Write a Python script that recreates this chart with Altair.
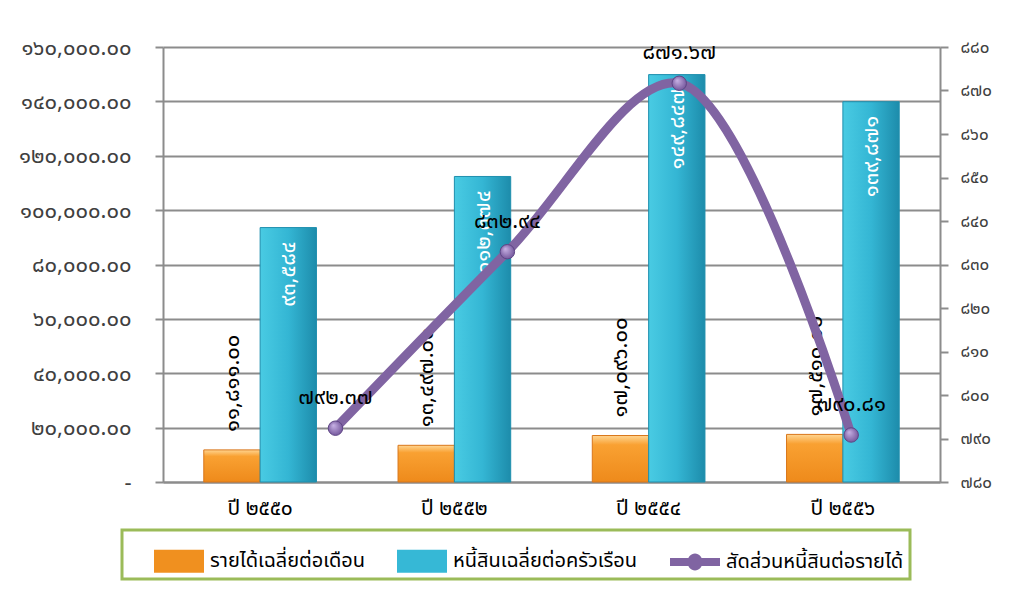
import altair as alt
import pandas as pd

years = ["ปี ๒๕๕๐", "ปี ๒๕๕๒", "ปี ๒๕๕๔", "ปี ๒๕๕๖"]
income = [11811.00, 13497.00, 17096.00, 17510.00]
debt = [93584, 112374, 149847, 139871]
ratio = [792.37, 832.94, 871.67, 790.81]
series_names = ["รายได้เฉลี่ยต่อเดือน", "หนี้สินเฉลี่ยต่อครัวเรือน", "สัดส่วนหนี้สินต่อรายได้"]
left_ticks = [0, 20000, 40000, 60000, 80000, 100000, 120000, 140000, 160000]
right_ticks = [780, 790, 800, 810, 820, 830, 840, 850, 860, 870, 880]

THAI = "๐๑๒๓๔๕๖๗๘๙"


def thai(s):
    return "".join(THAI[int(c)] if c.isdigit() else c for c in s)


def thai_expr(e):
    for d in range(10):
        e = f"replace({e}, regexp('{d}', 'g'), '{THAI[d]}')"
    return e


FONT = "Tahoma, 'Noto Sans Thai', 'Leelawadee UI', 'DejaVu Sans', sans-serif"

inc_df = pd.DataFrame({"year": years, "value": income, "series": "income",
                       "label": [thai(f"{v:,.2f}") for v in income]})
debt_df = pd.DataFrame({"year": years, "value": debt, "series": "debt",
                        "label": [thai(f"{v:,}") for v in debt]})
ratio_df = pd.DataFrame({"year": years, "ratio": ratio,
                         "label": [thai(f"{v:.2f}") for v in ratio]})
legend_df = pd.DataFrame({"name": series_names})

x_band = alt.X("year:N", sort=years, title=None,
               scale=alt.Scale(paddingInner=0.42, paddingOuter=0.21),
               axis=alt.Axis(labelAngle=0, labelFontSize=21, labelColor="#000000",
                             labelPadding=15, ticks=False, domainColor="#8C8C8C",
                             domainWidth=2, labelFont=FONT))
xoff = alt.XOffset("series:N", scale=alt.Scale(domain=["income", "debt"]))
y_left = alt.Y("value:Q", title=None,
               scale=alt.Scale(domain=[0, 160000], nice=False),
               axis=alt.Axis(values=left_ticks, labelFontSize=22, labelColor="#404040",
                             labelFont=FONT, labelPadding=24, tickSize=8,
                             tickColor="#8C8C8C", tickWidth=2, domainColor="#8C8C8C",
                             domainWidth=2, grid=True, gridColor="#8C8C8C", gridWidth=2,
                             labelExpr="datum.value == 0 ? '-\u00a0\u00a0\u00a0\u00a0' : "
                             + thai_expr("format(datum.value, ',.2f')")))

orange_grad = alt.Gradient(gradient="linear", x1=0, y1=0, x2=0, y2=1, stops=[
    alt.GradientStop(offset=0, color="#FFD591"),
    alt.GradientStop(offset=0.2, color="#F9A132"),
    alt.GradientStop(offset=1, color="#EE8A1B")])
teal_grad = alt.Gradient(gradient="linear", x1=0, y1=0, x2=1, y2=0, stops=[
    alt.GradientStop(offset=0, color="#49CBE3"),
    alt.GradientStop(offset=0.5, color="#34B6D4"),
    alt.GradientStop(offset=1, color="#1D8CAB")])

orange_bar = alt.Chart(inc_df).mark_bar(fill=orange_grad, stroke="#D9761A", strokeWidth=1).encode(
    x=x_band, xOffset=xoff, y=y_left)
orange_text = alt.Chart(inc_df).mark_text(angle=270, align="left", baseline="middle", dx=18,
                                          fontSize=22, color="#000000", font=FONT).encode(
    x=x_band, xOffset=xoff, y=y_left, text="label:N")
teal_bar = alt.Chart(debt_df).mark_bar(fill=teal_grad, stroke="#1F8FAE", strokeWidth=1).encode(
    x=x_band, xOffset=xoff, y=y_left)
teal_text = alt.Chart(debt_df).mark_text(angle=270, align="right", baseline="middle", dx=-14,
                                         fontSize=22, color="#FFFFFF", font=FONT).encode(
    x=x_band, xOffset=xoff, y=y_left, text="label:N")

bars = alt.layer(orange_bar, teal_bar, orange_text, teal_text)

x_point = alt.X("year:N", sort=years, title=None,
                scale=alt.Scale(type="point", padding=0.76, align=0.66), axis=None)
y_right = alt.Y("ratio:Q", title=None, scale=alt.Scale(domain=[780, 880], nice=False),
                axis=alt.Axis(orient="right", values=right_ticks, labelFontSize=17,
                              labelColor="#404040", labelFont=FONT, labelPadding=12,
                              tickSize=8, tickColor="#8C8C8C", tickWidth=2,
                              domainColor="#8C8C8C", domainWidth=2, grid=False,
                              labelExpr=thai_expr("format(datum.value, 'd')")))

dot_grad = alt.Gradient(gradient="radial", x1=0.35, y1=0.3, r1=0, x2=0.5, y2=0.5, r2=0.6, stops=[
    alt.GradientStop(offset=0, color="#C9B3E6"),
    alt.GradientStop(offset=1, color="#6A4C93")])

line = alt.Chart(ratio_df).mark_line(color="#8064A2", strokeWidth=9, interpolate="catmull-rom",
                                     strokeCap="round").encode(x=x_point, y=y_right)
dots = alt.Chart(ratio_df).mark_point(filled=True, fill=dot_grad, size=210, opacity=1,
                                      stroke="#5E4585", strokeWidth=1).encode(x=x_point, y=y_right)
line_text = alt.Chart(ratio_df).mark_text(dy=-31, fontSize=22, color="#000000", font=FONT).encode(
    x=x_point, y=y_right, text="label:N")

rect_path = "M-1,-0.46L1,-0.46L1,0.46L-1,0.46Z"
line_path = ("M-1,-0.16L1,-0.16L1,0.16L-1,0.16Z "
             "M0.3,0A0.3,0.34,0,1,1,-0.3,0A0.3,0.34,0,1,1,0.3,0Z")
leg = alt.Legend(title=None, orient="none", legendX=-41, legendY=483, direction="horizontal",
                 columns=3, labelFontSize=20, labelFont=FONT, labelColor="#000000",
                 symbolSize=2500, symbolOpacity=1, symbolStrokeWidth=0, labelOffset=6,
                 symbolOffset=26, columnPadding=6, padding=6, strokeColor="#9BBB59",
                 labelLimit=400)
legend_layer = alt.Chart(legend_df).mark_point(filled=True, opacity=0).encode(
    color=alt.Color("name:N", scale=alt.Scale(domain=series_names,
                                              range=["#F0901F", "#36B8D6", "#8064A2"]),
                    legend=leg),
    shape=alt.Shape("name:N", scale=alt.Scale(domain=series_names,
                                              range=[rect_path, rect_path, line_path]),
                    legend=leg),
)

line_layer = alt.layer(line, dots, line_text, legend_layer)

chart = alt.layer(bars, line_layer).resolve_scale(x="independent", y="independent").properties(
    width=777, height=435,
    autosize=alt.AutoSizeParams(type="none"),
    padding={"left": 155, "top": 39, "right": 65, "bottom": 111},
    background="#FFFFFF",
).configure_view(stroke=None).configure_legend(strokeWidth=3)

chart.save("out.html", embed_options={"renderer": "svg", "actions": False})
